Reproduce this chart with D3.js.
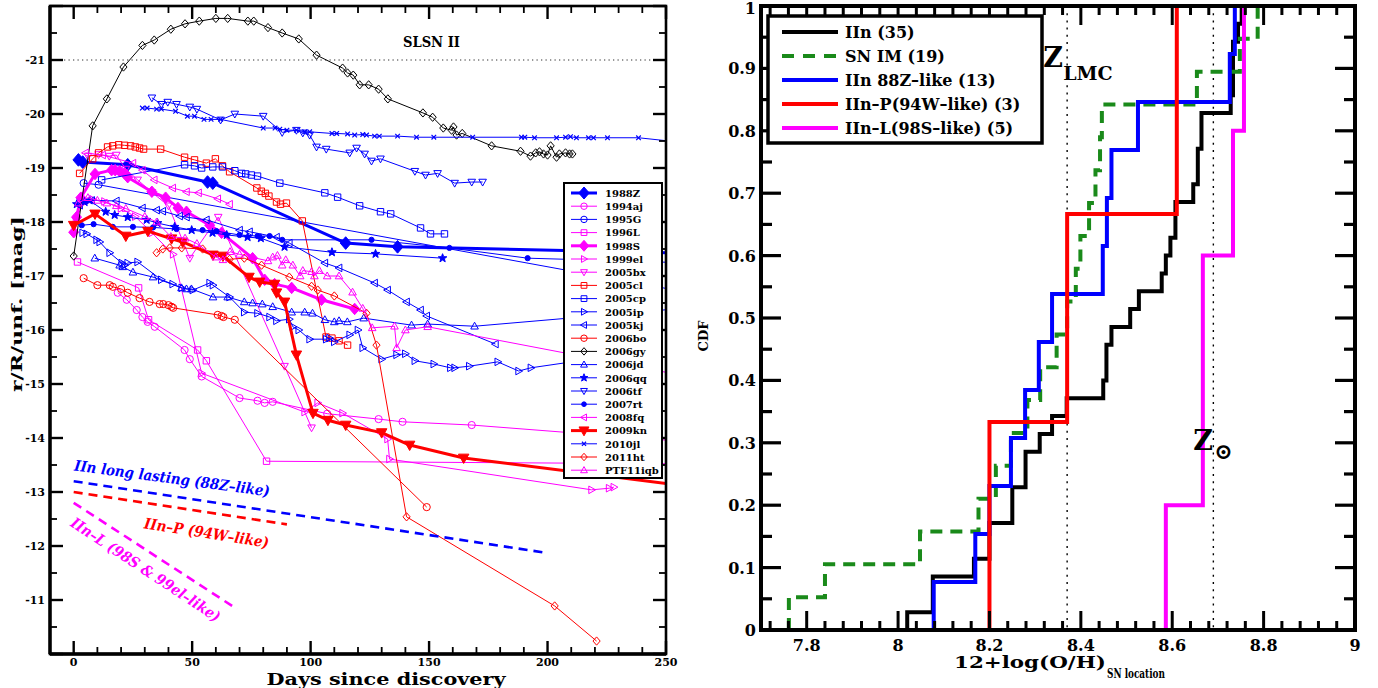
<!DOCTYPE html>
<html><head><meta charset="utf-8">
<script src="https://cdn.jsdelivr.net/npm/d3@7"></script>
<style>
body{margin:0;background:#fff}
svg{display:block}
text{font-family:"DejaVu Serif",serif;font-weight:bold}
</style>
</head><body>
<svg id="c" width="1378" height="688"></svg>
<script>
// ---------------- LEFT PANEL DATA: [days since discovery, magnitude] ----------------
const sn1988Z = [[2,-19.15],[3.8,-19.11],[22.8,-19.06],[56.5,-18.74],[58.7,-18.72],[114.8,-17.61],[136.7,-17.54],[262,-17.42]];
const sn1994aj = [[18.6,-16.69],[22.4,-16.56],[26.6,-16.37],[29,-16.24],[31.2,-16.15],[34.2,-16.06],[46.8,-15.63],[49,-15.46],[54,-15.14],[70,-14.74],[77.6,-14.69],[80.6,-14.65],[84,-14.67],[107,-14.45],[128.7,-14.35],[138.8,-14.3],[168,-14.24],[262,-13.92]];
const sn1995G = [[4.2,-18.72],[10.5,-18.69],[265,-16.65]];
const sn1996L = [[1.6,-17.26],[27.4,-16.78],[31.6,-16.19],[52.3,-15.63],[56,-15.43],[81.4,-13.57],[262,-13.52]];
const sn1998S = [[0,-17.81],[1.2,-18.09],[3,-18.45],[9,-18.89],[16,-18.96],[17.5,-18.96],[19.4,-18.94],[21.5,-18.9],[22.8,-18.83],[33,-18.56],[38.8,-18.45],[44,-18.26],[47.6,-18.19],[57.4,-17.94],[62.4,-17.8],[75.5,-17.33],[80.6,-16.93],[84.8,-16.85],[92,-16.78],[104.6,-16.56],[118.6,-16.39]];
const sn1999el = [[1,-18.05],[4,-18.35],[8,-18.42],[13,-18.38],[20,-18.25],[26,-18.1],[33,-17.8],[42,-17.4],[54,-15.2],[97.5,-14.48],[103,-14.65],[113.5,-14.46],[132.5,-13.98],[133.3,-13.61],[218.6,-13.04],[226,-13.07],[228,-13.09]];
const sn2005bx = [[6,-19.22],[10.5,-19.25],[15,-19.22],[18,-19.24],[22,-18.98],[27,-18.78],[33,-18.55],[40,-18.3],[49,-17.33],[61,-18.09],[89,-15.33],[100.4,-14.19]];
const sn2005cl = [[2.5,-18.9],[8,-19.17],[10.5,-19.28],[14.3,-19.39],[16.5,-19.41],[19,-19.43],[21.5,-19.42],[24,-19.41],[26,-19.39],[27.8,-19.37],[29.5,-19.35],[36.7,-19.35],[46.8,-19.2],[51,-19.15],[56,-19.09],[59.8,-19.17],[62.8,-19.04],[65.8,-18.93],[77.3,-18.63],[79.2,-18.57],[80.9,-18.53],[82.4,-18.48],[85.6,-18.37],[87.3,-18.33],[89.8,-18.35],[96.5,-18.02],[106.5,-15.87],[109,-15.85],[112,-15.8],[115.6,-15.72]];
const sn2005cp = [[11.8,-18.78],[46.8,-19.06],[51,-19.04],[54,-19.0],[58.7,-19.02],[62.8,-19.02],[68,-18.95],[70.9,-18.9],[72.6,-18.89],[75,-18.87],[77.6,-18.85],[87,-18.72],[106,-18.54],[111.4,-18.46],[120.7,-18.3],[129.5,-18.19],[133.8,-18.15],[146.4,-17.89],[150.6,-17.78],[156.5,-17.78]];
const sn2005ip = [[3.8,-17.8],[5.5,-17.78],[9.7,-17.67],[11,-17.63],[15.2,-17.43],[20.3,-17.24],[21.5,-17.2],[22.8,-17.24],[27,-17.26],[37,-16.93],[41.8,-16.85],[45.6,-16.78],[50.3,-16.74],[57.4,-16.87],[58.8,-16.83],[65.8,-16.61],[72,-16.33],[77.6,-16.31],[82.7,-16.24],[85.6,-16.17],[91,-16.2],[92.5,-16.06],[95,-16.0],[99.6,-15.83],[106.6,-15.83],[108,-15.85],[110,-15.78],[116.5,-15.91],[120,-16.0],[122,-15.67],[130,-15.46],[136.3,-15.54],[140,-15.56],[144,-15.43],[152,-15.37],[159,-15.3],[160.8,-15.3],[167,-15.33],[179,-15.41],[187.8,-15.24],[193,-15.3],[240,-15.6]];
const sn2005kj = [[2.5,-18.31],[7.6,-18.4],[18,-18.39],[29,-18.26],[35,-18.22],[37.6,-18.2],[44.7,-18.11],[47.6,-18.09],[56,-18.04],[70,-17.85],[74.2,-17.82],[85.6,-17.72],[91,-17.61],[106,-17.24],[112,-17.15],[127,-16.87],[132.5,-16.74],[140.5,-16.52],[146.4,-16.37],[149,-16.26],[178,-15.74]];
const sn2006bo = [[4.2,-16.96],[10,-16.83],[15.2,-16.83],[16.5,-16.8],[20,-16.76],[22.8,-16.69],[27.8,-16.59],[32,-16.52],[36.3,-16.48],[37.8,-16.48],[40,-16.46],[41.3,-16.43],[42,-16.41],[60.8,-16.28],[62.4,-16.26],[63.2,-16.24],[68,-16.19],[149,-12.72]];
const sn2006gy = [[0,-17.37],[8,-19.78],[14,-20.28],[21,-20.87],[29,-21.27],[34,-21.37],[41,-21.57],[47,-21.67],[53,-21.72],[60,-21.77],[65,-21.77],[73.5,-21.72],[76,-21.72],[82,-21.6],[88,-21.5],[95,-21.39],[102.5,-21.09],[113.5,-20.85],[115.6,-20.76],[118,-20.72],[120.7,-20.54],[124.5,-20.54],[128.7,-20.46],[132.6,-20.28],[147.4,-20.02],[151.5,-19.94],[156,-19.74],[159.5,-19.7],[160.3,-19.76],[161.6,-19.61],[164,-19.64],[176.4,-19.41],[188.6,-19.31],[192.8,-19.22],[195,-19.28],[196.6,-19.3],[198.3,-19.26],[200,-19.24],[201.3,-19.41],[203.8,-19.2],[205,-19.26],[207.6,-19.28],[209.3,-19.26],[210.5,-19.26]];
const sn2006jd = [[8.9,-17.33],[19.4,-17.2],[20.7,-17.17],[25,-17.07],[33.5,-16.98],[45.5,-16.78],[47.6,-16.76],[49.7,-16.76],[58.8,-16.61],[65,-16.61],[72,-16.52],[75.5,-16.5],[79.6,-16.48],[84,-16.43],[92,-16.33],[97.5,-16.33],[100.8,-16.31],[106,-16.19],[110,-16.15],[112,-16.17],[115.5,-16.15],[122.4,-16.22],[142.6,-16.09],[149.4,-16.11],[169.2,-16.07],[262,-16.42]];
const sn2006qq = [[1.3,-18.33],[4.6,-18.37],[6.7,-18.4],[13.5,-18.19],[17.3,-18.13],[22.8,-18.09],[30.8,-18.04],[35.4,-17.98],[42.6,-17.91],[49.8,-17.85],[58.6,-17.8],[64.6,-17.76],[73.4,-17.72],[79,-17.7],[89,-17.54],[109,-17.44],[127.4,-17.41],[155.7,-17.33]];
const sn2006tf = [[33,-20.3],[37,-20.18],[39.7,-20.22],[43.4,-20.18],[49,-20.13],[52,-20.09],[62,-19.89],[68,-20.0],[80,-19.96],[88,-19.66],[94,-19.7],[96.7,-19.65],[99.6,-19.61],[102.5,-19.39],[106.6,-19.35],[116.5,-19.28],[119.4,-19.37],[122.8,-19.26],[125.7,-19.13],[129.5,-19.17],[144,-18.94],[148.5,-18.87],[153.6,-18.9],[160.8,-18.72],[168,-18.74],[172.6,-18.74]];
const sn2007rt = [[3.4,-17.94],[8.4,-17.96],[16.5,-17.91],[25,-17.91],[33.5,-17.9],[43.4,-17.87],[54.4,-17.85],[60.3,-17.83],[70,-17.76],[77.6,-17.74],[82.7,-17.74],[88,-17.67],[125.7,-17.67],[158.6,-17.52],[191.6,-17.33],[262,-17.24]];
const sn2008fq = [[5,-19.28],[12.2,-19.24],[25,-19.09],[29,-18.96],[34,-18.78],[41.8,-18.63],[47.6,-18.56],[52.7,-18.54],[60.8,-18.43],[65.8,-18.33]];
const sn2009kn = [[0,-17.94],[9,-18.15],[22,-17.74],[31.3,-17.83],[41.3,-17.69],[46,-17.63],[58.8,-17.39],[63,-17.37],[74,-16.98],[78.5,-16.89],[84.8,-16.85],[85.6,-16.69],[89,-16.52],[94,-15.54],[101,-14.46],[107.3,-14.33],[114.8,-14.24],[130,-14.1],[141.8,-13.87],[164.6,-13.63],[255,-13.13]];
const sn2010jl = [[29,-20.11],[31,-20.11],[35,-20.09],[37,-20.09],[43,-20.05],[48,-19.96],[51,-19.96],[55,-19.9],[58,-19.9],[62,-19.9],[80,-19.74],[85,-19.74],[87,-19.72],[90,-19.7],[94,-19.7],[97.5,-19.67],[99.6,-19.67],[109,-19.64],[111,-19.64],[115.6,-19.63],[118.6,-19.61],[122,-19.62],[123.6,-19.61],[127,-19.59],[129,-19.59],[136.7,-19.59],[144.7,-19.57],[152,-19.57],[168.4,-19.57],[189,-19.57],[190.4,-19.57],[194.5,-19.56],[203.8,-19.56],[207.6,-19.57],[209.7,-19.58],[212.2,-19.56],[217.3,-19.56],[219.4,-19.56],[225.3,-19.56],[238.4,-19.56],[262,-19.45]];
const sn2011ht = [[35,-17.43],[37.6,-17.5],[40.5,-17.52],[45.6,-17.52],[54.4,-17.5],[65.8,-17.31],[72,-17.33],[79.3,-17.2],[91,-16.98],[100.4,-16.81],[103,-16.74],[110,-16.63],[123.6,-16.31],[127.8,-15.72],[140.5,-12.54],[203,-10.89],[220.7,-10.24]];
const snPTF11iqb = [[2,-18.35],[6,-18.45],[10,-18.4],[14,-18.35],[18,-18.3],[22,-18.25],[30,-18.1],[35,-18.0],[41,-17.73],[47,-17.7],[52,-17.6],[60,-17.35],[63,-17.3],[66,-17.45],[70,-17.4],[82,-17.28],[84,-17.35],[86,-17.38],[88,-17.2],[89.5,-17.3],[92.5,-17.2],[95.6,-17.0],[96.7,-17.1],[100.4,-17.08],[101.6,-17.0],[103.7,-17.1],[107,-17.0],[112,-17.0],[117.7,-16.7],[122,-16.4],[126,-16.04],[135.4,-16.07],[136.3,-15.67],[140,-16.0],[149.4,-16.06],[258,-15.15]];

const legendNames = ["1988Z","1994aj","1995G","1996L","1998S","1999el","2005bx","2005cl","2005cp","2005ip","2005kj","2006bo","2006gy","2006jd","2006qq","2006tf","2007rt","2008fq","2009kn","2010jl","2011ht","PTF11iqb"];
const legendData = [sn1988Z,sn1994aj,sn1995G,sn1996L,sn1998S,sn1999el,sn2005bx,sn2005cl,sn2005cp,sn2005ip,sn2005kj,sn2006bo,sn2006gy,sn2006jd,sn2006qq,sn2006tf,sn2007rt,sn2008fq,sn2009kn,sn2010jl,sn2011ht,snPTF11iqb];

// template decline lines
const longLasting = [[0,-13.2],[200,-11.87]];
const iinP = [[0,-13.0],[90,-12.4]];
const iinL = [[0,-12.8],[69,-10.83]];
const slsnLevel = -21;

const xTicksL = [0,50,100,150,200,250];
const yTicksL = [-21,-20,-19,-18,-17,-16,-15,-14,-13,-12,-11];

// ---------------- RIGHT PANEL DATA: 12+log(O/H) values ----------------
const zIIn = [8.02,8.076,8.076,8.166,8.20,8.20,8.25,8.25,8.279,8.279,8.31,8.337,8.369,8.449,8.456,8.456,8.467,8.508,8.527,8.577,8.586,8.596,8.607,8.607,8.646,8.656,8.656,8.664,8.664,8.728,8.733,8.733,8.733,8.744,8.752];
const zSNIM = [7.761,7.84,8.048,8.176,8.214,8.247,8.283,8.311,8.347,8.37,8.389,8.399,8.418,8.432,8.442,8.446,8.654,8.748,8.787];
const z88Z = [8.078,8.169,8.2,8.247,8.278,8.308,8.337,8.448,8.457,8.467,8.525,8.726,8.737];
const z94W = [8.2,8.37,8.61];
const z98S = [8.586,8.667,8.667,8.733,8.757];
const cdfLabels = ["IIn (35)","SN IM (19)","IIn 88Z\u2013like (13)","IIn\u2013P(94W\u2013like) (3)","IIn\u2013L(98S\u2013like) (5)"];
const zLMC = 8.37, zSun = 8.69;
const xTicksR = [7.8,8,8.2,8.4,8.6,8.8,9];
const yTicksR = [0,0.1,0.2,0.3,0.4,0.5,0.6,0.7,0.8,0.9,1];

// ---------------- STYLES ----------------
const BLUE="#0000ff", MAG="#ff00ff", RED="#ff0000", BLK="#000000";
const styleL = {
 "1988Z":{c:BLUE,m:"diamond",f:true,w:3,r:5.5},
 "1994aj":{c:MAG,m:"circle",f:false,w:1,r:3.6},
 "1995G":{c:BLUE,m:"circle",f:false,w:1,r:3.6},
 "1996L":{c:MAG,m:"square",f:false,w:1,r:3.2},
 "1998S":{c:MAG,m:"diamond",f:true,w:3,r:5},
 "1999el":{c:MAG,m:"tright",f:false,w:1,r:4},
 "2005bx":{c:MAG,m:"tdown",f:false,w:1,r:4},
 "2005cl":{c:RED,m:"square",f:false,w:1,r:3.2},
 "2005cp":{c:BLUE,m:"square",f:false,w:1,r:3.2},
 "2005ip":{c:BLUE,m:"tright",f:false,w:1,r:4},
 "2005kj":{c:BLUE,m:"tleft",f:false,w:1,r:4},
 "2006bo":{c:RED,m:"circle",f:false,w:1,r:3.6},
 "2006gy":{c:BLK,m:"diamond",f:false,w:1,r:3.6},
 "2006jd":{c:BLUE,m:"tup",f:false,w:1,r:4},
 "2006qq":{c:BLUE,m:"star",f:true,w:1,r:4.5},
 "2006tf":{c:BLUE,m:"tdown",f:false,w:1,r:4},
 "2007rt":{c:BLUE,m:"dot",f:true,w:1,r:2.6},
 "2008fq":{c:MAG,m:"tleft",f:false,w:1,r:4},
 "2009kn":{c:RED,m:"tdown",f:true,w:3,r:5.5},
 "2010jl":{c:BLUE,m:"x",f:false,w:1,r:2.3},
 "2011ht":{c:RED,m:"diamond",f:false,w:1,r:3.6},
 "PTF11iqb":{c:MAG,m:"tup",f:false,w:1,r:4}
};

function markerPath(t,r){
  const a=0.95*r,b=0.7*r;
  switch(t){
    case "circle": case "dot": return `M${r},0A${r},${r} 0 1,1 ${-r},0A${r},${r} 0 1,1 ${r},0Z`;
    case "square": return `M${-r},${-r}H${r}V${r}H${-r}Z`;
    case "diamond": return `M0,${-r*1.15}L${r},0L0,${r*1.15}L${-r},0Z`;
    case "tup": return `M0,${-r}L${a},${b}L${-a},${b}Z`;
    case "tdown": return `M0,${r}L${a},${-b}L${-a},${-b}Z`;
    case "tright": return `M${r},0L${-b},${-a}L${-b},${a}Z`;
    case "tleft": return `M${-r},0L${b},${-a}L${b},${a}Z`;
    case "star": { let p=""; for(let i=0;i<10;i++){const rr=i%2?r*0.42:r; const an=-Math.PI/2+i*Math.PI/5; p+=(i?"L":"M")+(rr*Math.cos(an)).toFixed(2)+","+(rr*Math.sin(an)).toFixed(2);} return p+"Z"; }
    case "x": return `M${-r},${-r}L${r},${r}M${-r},${r}L${r},${-r}`;
  }
}

const svg = d3.select("#c");
svg.append("rect").attr("width",1378).attr("height",688).attr("fill","#fff");
const defs = svg.append("defs");

// ================= LEFT PANEL =================
const xL = d3.scaleLinear().domain([-10,250]).range([50,666]);
const yL = d3.scaleLinear().domain([-22,-10]).range([6,654]);
const gL = svg.append("g");
defs.append("clipPath").attr("id","clipL").append("rect")
  .attr("x",xL(-10)).attr("y",yL(-22)).attr("width",xL(250)-xL(-10)).attr("height",yL(-10)-yL(-22));

const plotL = gL.append("g").attr("clip-path","url(#clipL)");
plotL.append("line").attr("x1",xL(-6)).attr("x2",xL(250)).attr("y1",yL(slsnLevel)).attr("y2",yL(slsnLevel))
  .attr("stroke","#777").attr("stroke-width",1.3).attr("stroke-dasharray","1.3,3.2");

const lineL = d3.line().x(d=>xL(d[0])).y(d=>yL(d[1]));
legendNames.forEach((nm,i)=>{
  const s=styleL[nm], data=legendData[i];
  plotL.append("path").attr("d",lineL(data)).attr("fill","none").attr("stroke",s.c).attr("stroke-width",s.w).attr("stroke-linejoin","round");
  plotL.selectAll(null).data(data).enter().append("path")
    .attr("transform",d=>`translate(${xL(d[0])},${yL(d[1])})`)
    .attr("d",markerPath(s.m,s.r))
    .attr("fill",s.f?s.c:"none").attr("stroke",s.c).attr("stroke-width",s.m==="x"?1.2:1);
});

[[longLasting,BLUE],[iinP,RED],[iinL,MAG]].forEach(([d,c])=>{
  plotL.append("path").attr("d",lineL(d)).attr("fill","none").attr("stroke",c).attr("stroke-width",2.6).attr("stroke-dasharray","9,6");
});
function rotLabel(txt,day,mag,ang,col,len,fs){
  gL.append("text").attr("transform",`translate(${xL(day)},${yL(mag)}) rotate(${ang})`)
    .attr("fill",col).attr("font-size",fs).attr("font-style","italic")
    .attr("textLength",len).attr("lengthAdjust","spacingAndGlyphs").text(txt);
}
rotLabel("IIn long lasting (88Z\u2013like)",0,-13.4,7.6,BLUE,197,15);
rotLabel("IIn\u2013P (94W\u2013like)",29.5,-12.33,9,RED,126,15);
rotLabel("IIn\u2013L (98S & 99el\u2013like)",-1.8,-12.38,33.5,MAG,176,15);

gL.append("text").attr("x",xL(151)).attr("y",yL(-21.25)).attr("font-size",15).attr("text-anchor","middle")
  .attr("textLength",57).attr("lengthAdjust","spacingAndGlyphs").text("SLSN II");

const L0=xL(-10),L1=xL(250),T0=yL(-22),B0=yL(-10);
for(let v=-10; v<=250; v+=10){
  const maj = v%50===0, len = maj?13:7, x=xL(v);
  gL.append("line").attr("x1",x).attr("x2",x).attr("y1",B0).attr("y2",B0-len).attr("stroke","#000").attr("stroke-width",maj?2.4:1.8);
  gL.append("line").attr("x1",x).attr("x2",x).attr("y1",T0).attr("y2",T0+len).attr("stroke","#000").attr("stroke-width",maj?2.4:1.8);
}
for(let v=-22; v<=-10; v+=0.5){
  const maj = Number.isInteger(v), len = maj?13:7, y=yL(v);
  gL.append("line").attr("x1",L0).attr("x2",L0+len).attr("y1",y).attr("y2",y).attr("stroke","#000").attr("stroke-width",maj?2.4:1.8);
  gL.append("line").attr("x1",L1).attr("x2",L1-len).attr("y1",y).attr("y2",y).attr("stroke","#000").attr("stroke-width",maj?2.4:1.8);
}
gL.append("rect").attr("x",L0).attr("y",T0).attr("width",L1-L0).attr("height",B0-T0).attr("fill","none").attr("stroke","#000").attr("stroke-width",2.6);
gL.append("line").attr("x1",L0).attr("x2",L0).attr("y1",T0).attr("y2",B0).attr("stroke","#000").attr("stroke-width",3.4);
gL.append("line").attr("x1",L0).attr("x2",L1).attr("y1",B0).attr("y2",B0).attr("stroke","#000").attr("stroke-width",3.4);

xTicksL.forEach(v=>gL.append("text").attr("x",xL(v)).attr("y",B0+12).attr("text-anchor","middle").attr("font-size",11).text(v));
yTicksL.forEach(v=>gL.append("text").attr("x",L0-5).attr("y",yL(v)+4).attr("text-anchor","end").attr("font-size",11).text(v));
gL.append("text").attr("x",386).attr("y",685).attr("text-anchor","middle").attr("font-size",16)
  .attr("textLength",239).attr("lengthAdjust","spacingAndGlyphs").text("Days since discovery");
gL.append("text").attr("transform","translate(22,304) rotate(-90)").attr("text-anchor","middle").attr("font-size",15)
  .attr("textLength",176).attr("lengthAdjust","spacingAndGlyphs").text("r/R/unf. [mag]");

const lg = gL.append("g");
lg.append("rect").attr("x",564).attr("y",183).attr("width",98).attr("height",295).attr("fill","#fff").attr("stroke","#000").attr("stroke-width",2);
legendNames.forEach((nm,i)=>{
  const s=styleL[nm], y=193+i*13.2;
  lg.append("line").attr("x1",571).attr("x2",597).attr("y1",y).attr("y2",y).attr("stroke",s.c).attr("stroke-width",s.w);
  lg.append("path").attr("transform",`translate(584,${y})`).attr("d",markerPath(s.m,s.w>1?s.r*0.95:s.r*0.9))
    .attr("fill",s.f?s.c:"none").attr("stroke",s.c).attr("stroke-width",s.m==="x"?1.2:1);
  lg.append("text").attr("x",605).attr("y",y+3.8).attr("font-size",10).text(nm);
});

// ================= RIGHT PANEL =================
const xR = d3.scaleLinear().domain([7.7,9.0]).range([761,1355]);
const yR = d3.scaleLinear().domain([0,1]).range([630,6]);
const gR = svg.append("g");
defs.append("clipPath").attr("id","clipR").append("rect")
  .attr("x",761).attr("y",6).attr("width",594).attr("height",624);
const plotR = gR.append("g").attr("clip-path","url(#clipR)");

[zLMC,zSun].forEach(z=>plotR.append("line").attr("x1",xR(z)).attr("x2",xR(z)).attr("y1",6).attr("y2",630)
  .attr("stroke","#000").attr("stroke-width",1.4).attr("stroke-dasharray","2,5.2"));

function cdfPts(vals){
  const s=vals.slice().sort(d3.ascending), n=s.length, pts=[[s[0],0]];
  s.forEach((v,i)=>pts.push([v,(i+1)/n]));
  return pts;
}
const stepLine = d3.line().x(d=>xR(d[0])).y(d=>yR(d[1])).curve(d3.curveStepAfter);
const cdfSets = [[zIIn,BLK,null],[zSNIM,"#1a8a1a","12,8"],[z88Z,BLUE,null],[z94W,RED,null],[z98S,MAG,null]];
cdfSets.forEach(([v,c,dash])=>{
  const p = plotR.append("path").attr("d",stepLine(cdfPts(v))).attr("fill","none").attr("stroke",c).attr("stroke-width",4);
  if(dash) p.attr("stroke-dasharray",dash);
});

const RL=761,RR=1355,RT=6,RB=630;
for(let k=0;k<=32;k++){
  const v=7.72+k*0.04; if(v>9.001) break;
  const maj = Math.abs(((v-7.8)/0.2)-Math.round((v-7.8)/0.2))<1e-6, len=maj?19:9, x=xR(v);
  gR.append("line").attr("x1",x).attr("x2",x).attr("y1",RB).attr("y2",RB-len).attr("stroke","#000").attr("stroke-width",3);
  gR.append("line").attr("x1",x).attr("x2",x).attr("y1",RT).attr("y2",RT+len).attr("stroke","#000").attr("stroke-width",3);
}
for(let k=0;k<=20;k++){
  const v=k*0.05, maj=k%2===0, len=maj?20:11, y=yR(v);
  gR.append("line").attr("x1",RL).attr("x2",RL+len).attr("y1",y).attr("y2",y).attr("stroke","#000").attr("stroke-width",3.2);
  gR.append("line").attr("x1",RR).attr("x2",RR-len).attr("y1",y).attr("y2",y).attr("stroke","#000").attr("stroke-width",3.2);
}
gR.append("rect").attr("x",RL).attr("y",RT).attr("width",RR-RL).attr("height",RB-RT).attr("fill","none").attr("stroke","#000").attr("stroke-width",4);

xTicksR.forEach(v=>gR.append("text").attr("x",xR(v)).attr("y",RB+21).attr("text-anchor","middle").attr("font-size",16).text(v));
yTicksR.forEach(v=>gR.append("text").attr("x",RL-5).attr("y",Math.max(yR(v)+6,14)).attr("text-anchor","end").attr("font-size",16).text(v));

const xl = gR.append("text").attr("x",954).attr("y",668).attr("font-size",16);
xl.append("tspan").attr("textLength",152).attr("lengthAdjust","spacingAndGlyphs").text("12+log(O/H)");
xl.append("tspan").attr("dx",1).attr("dy",10).attr("font-size",12.5).attr("textLength",58).attr("lengthAdjust","spacingAndGlyphs").text("SN location");
gR.append("text").attr("transform","translate(708,336) rotate(-90)").attr("text-anchor","middle").attr("font-size",13).text("CDF");

gR.append("text").attr("x",xR(zLMC)-24).attr("y",67).attr("font-size",27).text("Z");
gR.append("text").attr("x",xR(zLMC)-4).attr("y",80).attr("font-size",19).text("LMC");
gR.append("text").attr("x",xR(zSun)-20).attr("y",450).attr("font-size",27).text("Z");
gR.append("text").attr("x",xR(zSun)+1).attr("y",459).attr("font-size",22).attr("font-weight","normal").text("\u2299");

const lr = gR.append("g");
lr.append("rect").attr("x",768).attr("y",16).attr("width",274).attr("height",127).attr("fill","#fff").attr("stroke","#000").attr("stroke-width",3.5);
cdfSets.forEach(([v,c,dash],i)=>{
  const y=32+i*24;
  const ln=lr.append("line").attr("x1",782).attr("x2",838).attr("y1",y).attr("y2",y).attr("stroke",c).attr("stroke-width",4);
  if(dash) ln.attr("stroke-dasharray","12,9");
  lr.append("text").attr("x",845).attr("y",y+6).attr("font-size",16).text(cdfLabels[i]);
});
</script>
</body></html>
